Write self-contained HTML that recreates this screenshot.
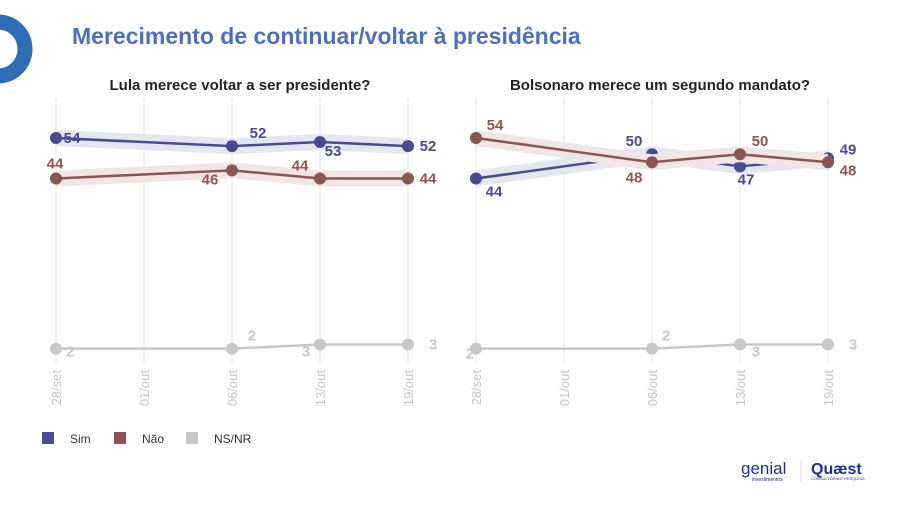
<!DOCTYPE html>
<html><head><meta charset="utf-8"><style>
body{margin:0;width:900px;height:501px;background:#fff;overflow:hidden;font-family:"Liberation Sans",sans-serif}
</style></head><body>
<svg width="900" height="501" viewBox="0 0 900 501">
<circle cx="-2" cy="49" r="27" fill="none" stroke="#2f6db5" stroke-width="15"/>
<text x="72" y="44" font-size="23" font-weight="bold" fill="#4f71b3">Merecimento de continuar/voltar à presidência</text>
<text x="240" y="90" font-size="15" font-weight="bold" fill="#222" text-anchor="middle">Lula merece voltar a ser presidente?</text>
<text x="660" y="90" font-size="15" font-weight="bold" fill="#222" text-anchor="middle">Bolsonaro merece um segundo mandato?</text>
<g id="plots"></g>
<g>
<rect x="42" y="432" width="12" height="12" fill="#4a4a8f"/>
<text x="70" y="443" font-size="12" fill="#333">Sim</text>
<rect x="114" y="432" width="12" height="12" fill="#8b5552"/>
<text x="142" y="443" font-size="12" fill="#333">Não</text>
<rect x="186" y="432" width="12" height="12" fill="#c8c8c8"/>
<text x="214" y="443" font-size="12" fill="#333">NS/NR</text>
</g>
<g>
<text x="741" y="474" font-size="17" fill="#1f2f8a">genial</text>
<text x="752" y="481" font-size="5" fill="#1f2f8a">investimentos</text>
<line x1="801" y1="460" x2="801" y2="482" stroke="#ddd"/>
<text x="811" y="474" font-size="16" font-weight="bold" fill="#1f2f8a">Quæst</text>
<text x="811" y="480" font-size="4" fill="#1f2f8a">CONSULTORIA E PESQUISA</text>
</g>
</svg>
<script>
const dates=["28/set","01/out","06/out","13/out","19/out"];
const lulaSim=[54,null,52,53,52];
const lulaNao=[44,null,46,44,44];
const lulaNs=[2,null,2,3,3];
const bolSim=[44,null,50,47,49];
const bolNao=[54,null,48,50,48];
const bolNs=[2,null,2,3,3];
const NS="http://www.w3.org/2000/svg";
const g=document.getElementById('plots');
const y=v=>356.7-v*4.05;
function el(t,a,p){const e=document.createElementNS(NS,t);for(const k in a)e.setAttribute(k,a[k]);(p||g).appendChild(e);return e;}
const panels=[
 {x0:56,series:[[lulaSim,'#4a4a8f','#e6e6f0','sim',[[16,5],[26,-8],[13,14],[20,5]]],[lulaNao,'#8b5552','#f1e6e6','nao',[[-1,-10],[-22,14],[-20,-8],[20,5]]],[lulaNs,'#c8c8c8',null,'ns',[[14,8],[20,-8],[-14,12],[25,5]]]],name:'lula'},
 {x0:476,series:[[bolSim,'#4a4a8f','#e6e6f0','sim',[[18,18],[-18,-8],[6,18],[20,-4]]],[bolNao,'#8b5552','#f1e6e6','nao',[[19,-8],[-18,20],[20,-8],[20,13]]],[bolNs,'#c8c8c8',null,'ns',[[-6,10],[14,-8],[16,12],[25,5]]]],name:'bolsonaro'}
];
panels.forEach(p=>{
 const x=i=>p.x0+i*88;
 dates.forEach((d,i)=>{
  const l=el('line',{x1:x(i),x2:x(i),y1:98,y2:364,stroke:'#e6e6e6','stroke-width':1});
  
  
  const t=el('text',{x:0,y:0,'font-size':13,fill:'#c4c4c4','text-anchor':'end',transform:`translate(${x(i)+5},370) rotate(-90)`});
  t.textContent=d;
  
  
 });
 p.series.forEach(([vals,col,band,key,offs])=>{
  const pts=[];vals.forEach((v,i)=>{if(v!=null)pts.push([x(i),y(v),v]);});
  if(band){
   const up=pts.map(q=>q[0]+','+(q[1]-8)).join(' ');
   const dn=pts.slice().reverse().map(q=>q[0]+','+(q[1]+8)).join(' ');
   const b=el('polygon',{points:up+' '+dn,fill:band});
   
   
  }
  const ln=el('polyline',{points:pts.map(q=>q[0]+','+q[1]).join(' '),fill:'none',stroke:col,'stroke-width':2.5});
  
  
  pts.forEach((q,j)=>{
   const c=el('circle',{cx:q[0],cy:q[1],r:6,fill:col});
   
   
   const o=offs[j];
   const t=el('text',{x:q[0]+o[0],y:q[1]+o[1],'font-size':15,'font-weight':'bold',fill:col,'text-anchor':'middle'});
   t.textContent=q[2];
   
   
  });
 });
});
</script>
</body></html>
